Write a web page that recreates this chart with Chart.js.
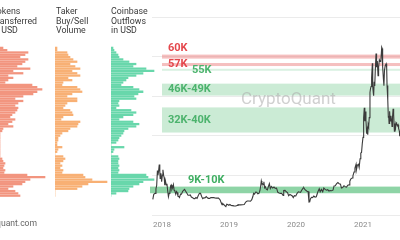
<!DOCTYPE html>
<html>
<head>
<meta charset="utf-8">
<script src="https://cdn.jsdelivr.net/npm/chart.js@4"></script>
<style>
  html, body { margin: 0; padding: 0; background: #fff; }
  #wrap { position: relative; width: 400px; height: 240px; overflow: hidden; background: #fff;
          font-family: Roboto, "Open Sans", sans-serif; }
  #wrap canvas { position: absolute; top: 0; }
  .ttl { position: absolute; top: 7px; font-size: 8.8px; line-height: 9.5px; color: #3a3a3a; white-space: nowrap; }
  .foot { position: absolute; top: 219px; left: -28px; font-size: 8.6px; line-height: 9.5px; color: #666; white-space: nowrap; }
</style>
</head>
<body>
<div id="wrap">
  <canvas id="price" width="400" height="240" style="left:0"></canvas>
  <canvas id="p1" width="50" height="240" style="left:0"></canvas>
  <canvas id="p2" width="55" height="240" style="left:55px"></canvas>
  <canvas id="p3" width="50" height="240" style="left:111px"></canvas>
  <div class="ttl" style="left:-8px">Tokens<br>Transferred<br>in USD</div>
  <div class="ttl" style="left:56px">Taker<br>Buy/Sell<br>Volume</div>
  <div class="ttl" style="left:111px">Coinbase<br>Outflows<br>in USD</div>
  <div class="foot">cryptoquant.com</div>
</div>
<script>
// ---- Price levels for the on-chain profiles (thousand USD) ----
const levels = [67,66,65,64,63,62,61,60,59,58,57,56,55,54,53,52,51,50,49,48,47,46,45,44,43,42,41,40,39,38,37,36,35,34,33,32,31,30,29,28,27,26,25,24,23,22,21,20,19,18,17,16,15,14,13,12,11,10,9,8,7,6,5,4,3];

// Relative activity at each price level
const tokensTransferred = [3,7,28,25,20,28,25,22,17,30, 13,23,8,13,8,5,32,37,42,37, 33,23,15,23,18,15,18,17,15,12, 10,15,12,8,13,3,2,
  0,0,0,0,0,0,0,0,0,0,0, 2,3,5,4,3,5,4, 27,45,30,25,22,13,8,15,18,20];
const takerVolume = [2,2,12,13,15,18,22,15,20,25, 17,22,25,13,17,8,7,22,25,27, 17,12,22,22,12,10,8,15,17,18, 8,6,25,23,22,15,13,
  7,5,3,3,2,2,7,3,2,0,8, 10,8,5,7,5,8,7, 28,30,37,52,33,27,22,0,0,0];
const coinbaseOutflows = [2,3,5,7,8,12,18,25,22,35, 43,32,25,17,15,12,10,22,28,32, 27,23,25,8,7,8,5,20,25,22, 12,8,22,28,25,17,13,
  12,10,8,7,5,0,13,3,2,0,7, 8,7,7,8,7,8,7, 35,37,43,32,28,22,18,17,5,0];

// ---- BTC price (thousand USD) ----
const dates = [
 "2017-11-12","2017-11-17","2017-11-24","2017-11-29","2017-12-03","2017-12-07","2017-12-10","2017-12-13","2017-12-17","2017-12-20",
 "2017-12-22","2017-12-26","2017-12-30","2018-01-03","2018-01-06","2018-01-10","2018-01-13","2018-01-16","2018-01-20","2018-01-24",
 "2018-01-28","2018-02-01","2018-02-05","2018-02-09","2018-02-13","2018-02-17","2018-02-20","2018-02-24","2018-02-28","2018-03-04",
 "2018-03-08","2018-03-12","2018-03-17","2018-03-21","2018-03-25","2018-03-29","2018-04-02","2018-04-06","2018-04-12","2018-04-17",
 "2018-04-23","2018-04-28","2018-05-04","2018-05-10","2018-05-16","2018-05-23","2018-05-29","2018-06-04","2018-06-10","2018-06-17",
 "2018-06-24","2018-06-29","2018-07-05","2018-07-11","2018-07-17","2018-07-24","2018-07-30","2018-08-05","2018-08-11","2018-08-17",
 "2018-08-23","2018-08-30","2018-09-05","2018-09-11","2018-09-18","2018-09-24","2018-10-01","2018-10-10","2018-10-15","2018-10-25",
 "2018-11-05","2018-11-14","2018-11-19","2018-11-24","2018-11-28","2018-12-04","2018-12-10","2018-12-15","2018-12-20","2018-12-24",
 "2018-12-31","2019-01-06","2019-01-12","2019-01-20","2019-01-28","2019-02-07","2019-02-14","2019-02-19","2019-02-25","2019-03-05",
 "2019-03-15","2019-03-25","2019-04-02","2019-04-10","2019-04-20","2019-04-28","2019-05-05","2019-05-11","2019-05-15","2019-05-20",
 "2019-05-26","2019-06-01","2019-06-07","2019-06-13","2019-06-18","2019-06-22","2019-06-26","2019-06-29","2019-07-03","2019-07-07",
 "2019-07-10","2019-07-14","2019-07-18","2019-07-23","2019-07-29","2019-08-04","2019-08-09","2019-08-14","2019-08-20","2019-08-27",
 "2019-09-03","2019-09-10","2019-09-17","2019-09-24","2019-10-01","2019-10-08","2019-10-15","2019-10-23","2019-10-26","2019-11-02",
 "2019-11-09","2019-11-16","2019-11-22","2019-11-29","2019-12-06","2019-12-12","2019-12-17","2019-12-23","2019-12-31","2020-01-07",
 "2020-01-14","2020-01-19","2020-01-26","2020-02-01","2020-02-09","2020-02-13","2020-02-19","2020-02-25","2020-03-02","2020-03-07",
 "2020-03-12","2020-03-16","2020-03-20","2020-03-26","2020-04-01","2020-04-07","2020-04-14","2020-04-21","2020-04-29","2020-05-07",
 "2020-05-12","2020-05-19","2020-05-26","2020-06-01","2020-06-08","2020-06-15","2020-06-22","2020-06-29","2020-07-06","2020-07-13",
 "2020-07-21","2020-07-27","2020-08-02","2020-08-10","2020-08-17","2020-08-24","2020-08-31","2020-09-05","2020-09-12","2020-09-19",
 "2020-09-26","2020-10-03","2020-10-10","2020-10-17","2020-10-21","2020-10-27","2020-11-03","2020-11-07","2020-11-13","2020-11-18",
 "2020-11-24","2020-11-26","2020-12-01","2020-12-07","2020-12-11","2020-12-16","2020-12-20","2020-12-24","2020-12-28","2021-01-01",
 "2021-01-03","2021-01-06","2021-01-08","2021-01-11","2021-01-14","2021-01-17","2021-01-21","2021-01-24","2021-01-27","2021-01-29",
 "2021-02-01","2021-02-04","2021-02-08","2021-02-11","2021-02-14","2021-02-17","2021-02-21","2021-02-23","2021-02-26","2021-02-28",
 "2021-03-03","2021-03-06","2021-03-09","2021-03-13","2021-03-16","2021-03-20","2021-03-24","2021-03-27","2021-03-31","2021-04-04",
 "2021-04-08","2021-04-13","2021-04-15","2021-04-18","2021-04-22","2021-04-25","2021-04-28","2021-05-02","2021-05-07","2021-05-10",
 "2021-05-12","2021-05-15","2021-05-17","2021-05-19","2021-05-21","2021-05-23","2021-05-26","2021-05-29","2021-06-02","2021-06-06",
 "2021-06-08","2021-06-11","2021-06-14","2021-06-17","2021-06-21","2021-06-24","2021-06-26","2021-06-30","2021-07-03","2021-07-07",
 "2021-07-11","2021-07-14","2021-07-18","2021-07-20"
];
const prices = [
 5.9,7.8,8.2,9.9,11.2,16.8,15.1,16.4,19.1,16.6,
 13.8,15.8,12.6,15.1,17.1,14.9,14.2,11.3,12.8,11.4,
 11.8,9.1,6.9,8.2,8.5,11.1,11.4,9.7,10.4,11.5,
 9.4,9.1,7.9,8.9,8.5,7.1,7.0,6.6,7.9,7.9,
 8.9,9.3,9.7,9.0,8.3,7.5,7.5,7.6,6.8,6.5,
 6.2,6.2,6.6,6.3,7.3,8.2,8.2,7.0,6.2,6.5,
 6.5,7.0,6.5,6.3,6.3,6.6,6.6,6.6,6.5,6.4,
 6.4,5.7,4.7,3.9,4.3,3.9,3.5,3.2,4.1,4.0,
 3.7,4.0,3.6,3.55,3.45,3.4,3.6,3.9,3.85,3.85,
 3.9,3.95,4.9,5.3,5.3,5.2,5.8,7.0,8.2,7.9,
 8.7,8.6,8.0,8.2,9.1,10.7,12.9,12.0,11.9,11.5,
 12.6,10.3,10.7,9.8,9.5,10.9,11.9,10.0,10.8,10.2,
 10.6,10.1,10.2,8.6,8.3,8.2,8.2,7.4,9.25,9.3,
 8.8,8.5,7.3,7.8,7.5,7.2,6.6,7.3,7.2,8.2,
 8.8,8.7,8.6,9.4,10.2,10.3,9.6,9.3,8.9,8.9,
 4.9,5.0,6.2,6.7,6.6,7.2,6.8,6.9,8.7,9.9,
 8.8,9.7,8.8,10.2,9.7,9.4,9.6,9.1,9.3,9.2,
 9.4,11.0,11.1,11.9,12.3,11.8,11.7,10.2,10.4,11.1,
 10.7,10.6,11.3,11.4,12.8,13.7,14.0,14.8,16.3,17.8,
 19.2,17.1,18.8,19.2,18.0,21.3,23.5,23.7,27.0,29.4,
 32.8,36.8,40.6,35.5,39.2,36.0,30.8,32.3,30.4,34.3,
 33.5,36.9,46.4,47.9,48.7,52.1,57.5,48.8,46.3,45.2,
 50.5,48.9,54.9,61.2,56.0,58.3,52.8,55.9,58.8,58.2,
 58.1,63.5,63.1,56.2,51.7,49.0,54.8,56.6,57.3,55.8,
 49.1,46.4,43.5,37.0,37.5,34.7,39.3,35.6,37.6,35.8,
 33.5,37.3,40.2,38.1,31.7,34.7,32.0,35.0,34.7,33.8,
 34.2,32.8,31.8,29.8
];

// ---- Price zones (thousand USD) ----
const zoneLabels = ["60K", "57K", "55K", "46K-49K", "32K-40K", "9K-10K"];
const zoneLow    = [60, 57, 55, 46, 32, 9];
const zoneHigh   = [60, 57, 55, 49, 40, 10];

// Horizontal grid levels and year ticks
const gridLevels = [0, 15, 30, 45, 60, 75];
const yearTicks  = [2018, 2019, 2020, 2021];

// ---- styling ----
const RED_FILL = 'rgba(236,128,128,0.5)';
const RED_TEXT = '#e4474c';
const GREEN_TEXT = '#4cb36d';
const zoneStyle = [
  { fill: RED_FILL, text: RED_TEXT, pad: 2, start: 2018.0, labelX: 168, place: 'above' },
  { fill: RED_FILL, text: RED_TEXT, pad: 1.5, start: 2018.0, labelX: 168, place: 'inside' },
  { fill: 'rgba(150,215,172,0.35)', text: GREEN_TEXT, pad: 1, start: 2018.0, labelX: 192, place: 'inside' },
  { fill: 'rgba(132,208,156,0.42)', text: GREEN_TEXT, pad: 2, start: 2018.0, labelX: 168, place: 'inside' },
  { fill: 'rgba(132,208,156,0.42)', text: GREEN_TEXT, pad: 2, start: 2018.0, labelX: 168, place: 'inside' },
  { fill: 'rgba(72,186,112,0.62)', text: '#3fae62', pad: 2, start: 2017.80, labelX: 188, place: 'above' }
];

function toYear(s) {
  const [y, m, d] = s.split('-').map(Number);
  const start = Date.UTC(y, 0, 1), end = Date.UTC(y + 1, 0, 1);
  return y + (Date.UTC(y, m - 1, d) - start) / (end - start);
}

const zonePlugin = {
  id: 'priceZones',
  beforeDatasetsDraw(chart) {
    const { ctx, chartArea, scales: { x, y } } = chart;
    ctx.save();
    zoneLabels.forEach((_, i) => {
      const st = zoneStyle[i];
      const top = y.getPixelForValue(zoneHigh[i]) - st.pad;
      const bottom = y.getPixelForValue(zoneLow[i]) + st.pad;
      const left = Math.max(chartArea.left - 2, x.getPixelForValue(st.start));
      ctx.fillStyle = st.fill;
      ctx.fillRect(left, top, chartArea.right - left, bottom - top);
    });
    ctx.font = '17px Roboto, "Open Sans", sans-serif';
    ctx.fillStyle = 'rgba(170,170,170,0.55)';
    ctx.textBaseline = 'middle';
    ctx.textAlign = 'left';
    ctx.fillText('CryptoQuant', 241, 100);
    ctx.restore();
  },
  afterDatasetsDraw(chart) {
    const { ctx, scales: { y } } = chart;
    ctx.save();
    ctx.font = 'bold 11px Roboto, "Open Sans", sans-serif';
    ctx.textBaseline = 'middle';
    ctx.textAlign = 'left';
    zoneLabels.forEach((label, i) => {
      const st = zoneStyle[i];
      const top = y.getPixelForValue(zoneHigh[i]) - st.pad;
      const bottom = y.getPixelForValue(zoneLow[i]) + st.pad;
      const cy = st.place === 'above' ? top - 6 : (top + bottom) / 2;
      ctx.fillStyle = st.text;
      ctx.fillText(label, st.labelX, cy);
    });
    ctx.restore();
  }
};

new Chart(document.getElementById('price'), {
  type: 'line',
  data: {
    datasets: [{
      data: dates.map((d, i) => ({ x: toYear(d), y: prices[i] })),
      borderColor: '#3b3b3b',
      borderWidth: 1.1,
      pointRadius: 0,
      tension: 0,
      fill: false
    }]
  },
  options: {
    responsive: false,
    animation: false,
    events: [],
    layout: { padding: { left: 152, top: 17, right: 0, bottom: 0 } },
    plugins: { legend: { display: false }, tooltip: { enabled: false } },
    scales: {
      x: {
        type: 'linear',
        min: 2018 - 10 / 67,
        max: 2018 - 10 / 67 + 248 / 67,
        grid: { display: false, drawTicks: false },
        border: { display: false },
        afterBuildTicks: s => { s.ticks = yearTicks.map(v => ({ value: v })); },
        afterFit: s => { s.height = 25; },
        ticks: {
          padding: 5, color: '#8a8a8a', autoSkip: false, maxRotation: 0,
          font: { size: 8, family: 'Roboto' },
          callback: v => String(v)
        }
      },
      y: {
        min: 0, max: 75,
        afterBuildTicks: s => { s.ticks = gridLevels.map(v => ({ value: v })); },
        afterFit: s => { s.width = 0; },
        ticks: { display: false },
        grid: { color: '#ebebeb', drawTicks: false },
        border: { display: false }
      }
    }
  },
  plugins: [zonePlugin]
});

function profile(id, values, color, span) {
  return new Chart(document.getElementById(id), {
    type: 'bar',
    data: {
      datasets: [{
        data: levels.map((lv, i) => ({ x: values[i], y: lv })),
        backgroundColor: color,
        borderWidth: 0,
        barThickness: 1.6
      }]
    },
    options: {
      indexAxis: 'y',
      responsive: false,
      animation: false,
      events: [],
      layout: { padding: { top: 17, bottom: 25, left: 0, right: 0 } },
      plugins: { legend: { display: false }, tooltip: { enabled: false } },
      scales: {
        x: { type: 'linear', min: 0, max: span, display: false },
        y: { type: 'linear', min: 0, max: 75, display: false }
      }
    }
  });
}

profile('p1', tokensTransferred, '#f2957f', 50);
profile('p2', takerVolume, '#f8b074', 55);
profile('p3', coinbaseOutflows, '#68d7ab', 50);
</script>
</body>
</html>
